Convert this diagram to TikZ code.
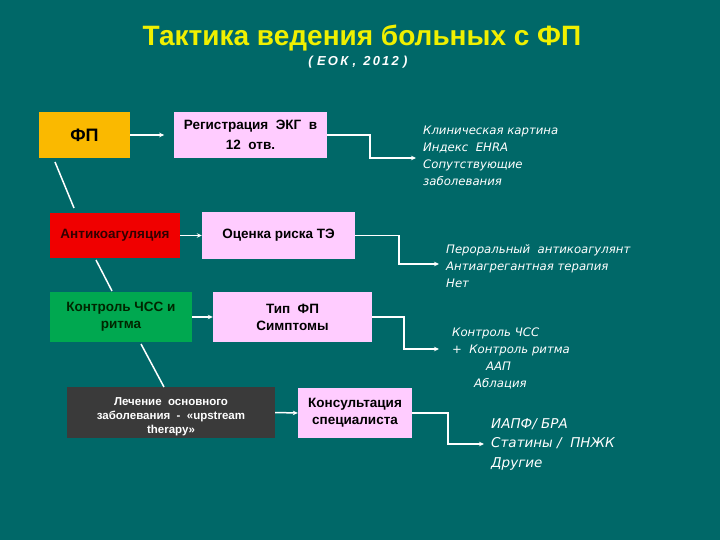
\documentclass[tikz,border=0pt]{standalone}
\usepackage{fontspec}
\setmainfont{Liberation Sans}
\newfontfamily\notefont{DejaVu Sans}
\usetikzlibrary{arrows.meta}
\definecolor{bgteal}{RGB}{0,104,104}
\definecolor{titleyellow}{RGB}{240,240,0}
\definecolor{fporange}{RGB}{250,185,0}
\definecolor{boxpink}{RGB}{255,204,255}
\definecolor{boxred}{RGB}{240,0,0}
\definecolor{boxgreen}{RGB}{0,168,80}
\definecolor{boxgrey}{RGB}{58,58,58}
\tikzset{
  box/.style={draw=none, inner sep=0pt, align=center, font=\bfseries},
  conn/.style={draw=white, line width=1.5pt, -{Stealth[length=5pt,width=4.5pt]}},
  plainconn/.style={draw=white, line width=1.5pt},
  note/.style={anchor=north west, inner sep=0pt, align=left, text=white, font=\notefont\itshape\fontsize{11.7}{17}\selectfont},
}
\begin{document}
\begin{tikzpicture}[x=1pt,y=-1pt]
\fill[bgteal] (0,0) rectangle (720,540);
\useasboundingbox (0,0) rectangle (720,540);

\node[text=titleyellow, font=\bfseries\fontsize{28}{30}\selectfont] (title) at (362,38) {Тактика ведения больных с ФП};
\node[text=white, font=\bfseries\itshape\fontsize{13}{14}\selectfont] (sub) at (358,62) {(\,\,Е\,О\,К\,\,,~~2\,0\,1\,2\,\,)};

\node[box, fill=fporange, minimum width=91pt, minimum height=46pt, font=\bfseries\fontsize{18}{20}\selectfont] (fp) at (84.5,135) {ФП};
\node[box, fill=boxpink, minimum width=153pt, minimum height=46pt, font=\bfseries\fontsize{13.5}{20}\selectfont] (reg) at (250.5,135) {Регистрация~~ЭКГ~~в\\12~~отв.};
\node[box, fill=boxred, minimum width=130pt, minimum height=45pt, text=black!80!red, font=\bfseries\fontsize{13.5}{15}\selectfont] (anti) at (115,235.5) {Антикоагуляция};
\node[box, fill=boxpink, minimum width=153pt, minimum height=46pt, font=\bfseries\fontsize{13.5}{16}\selectfont] (risk) at (278.5,235.5) {Оценка риска ТЭ};
\node[box, fill=boxgreen, minimum width=142pt, minimum height=50pt, text=black!85!green, font=\bfseries\fontsize{13.5}{17}\selectfont] (ctrl) at (121,317) {Контроль ЧСС и\\ритма};
\node[box, fill=boxpink, minimum width=159pt, minimum height=50pt, font=\bfseries\fontsize{13.5}{17}\selectfont] (type) at (292.5,317) {Тип~~ФП\\Симптомы};
\node[box, fill=boxgrey, minimum width=208pt, minimum height=51pt, text=white, font=\bfseries\fontsize{11.5}{14}\selectfont] (treat) at (171,412.5) {\rule{0pt}{16pt}Лечение~~основного\\заболевания~~-~~«upstream\\therapy»};
\node[box, fill=boxpink, minimum width=114pt, minimum height=50pt, font=\bfseries\fontsize{13.5}{17}\selectfont] (cons) at (355,413) {Консультация\\специалиста};

\node[note] (t1) at (423,126) {Клиническая картина\\Индекс~~EHRA\\Сопутствующие\\заболевания};
\node[note] (t2) at (446,244) {Пероральный~~антикоагулянт\\Антиагрегантная терапия\\Нет};
\node[note] (t3) at (452,328) {Контроль ЧСС\\+~~Контроль ритма\\\hspace*{34pt}ААП\\\hspace*{22pt}Аблация};
\node[note, font=\notefont\itshape\fontsize{13.5}{19.5}\selectfont] (t4) at (491,418) {ИАПФ/ БРА\\Статины /~~ПНЖК\\Другие};

\coordinate (e1) at (416,158);
\coordinate (e2) at (439,264);
\coordinate (e3) at (439,349);
\coordinate (e4) at (484,444);

\draw[conn] (fp.east) -- ++(34,0) coordinate (fpend);
\draw[conn] (anti.east) -- (risk.west);
\draw[conn] (ctrl.east) -- (type.west);
\draw[conn] (treat.east) -- (cons.west);

\draw[conn] (reg.east) -- ++(43,0) |- (e1);
\draw[conn] (risk.east) -- ++(44,0) |- (e2);
\draw[conn] (type.east) -- ++(32,0) |- (e3);
\draw[conn] (cons.east) -- ++(36,0) |- (e4);

\coordinate (d1a) at (55,162);
\coordinate (d1b) at (74,208);
\coordinate (d2a) at (96,260);
\coordinate (d2b) at (112,291);
\coordinate (d3a) at (141,344);
\coordinate (d3b) at (164,387);
\draw[plainconn] (d1a) -- (d1b);
\draw[plainconn] (d2a) -- (d2b);
\draw[plainconn] (d3a) -- (d3b);
\end{tikzpicture}
\end{document}
